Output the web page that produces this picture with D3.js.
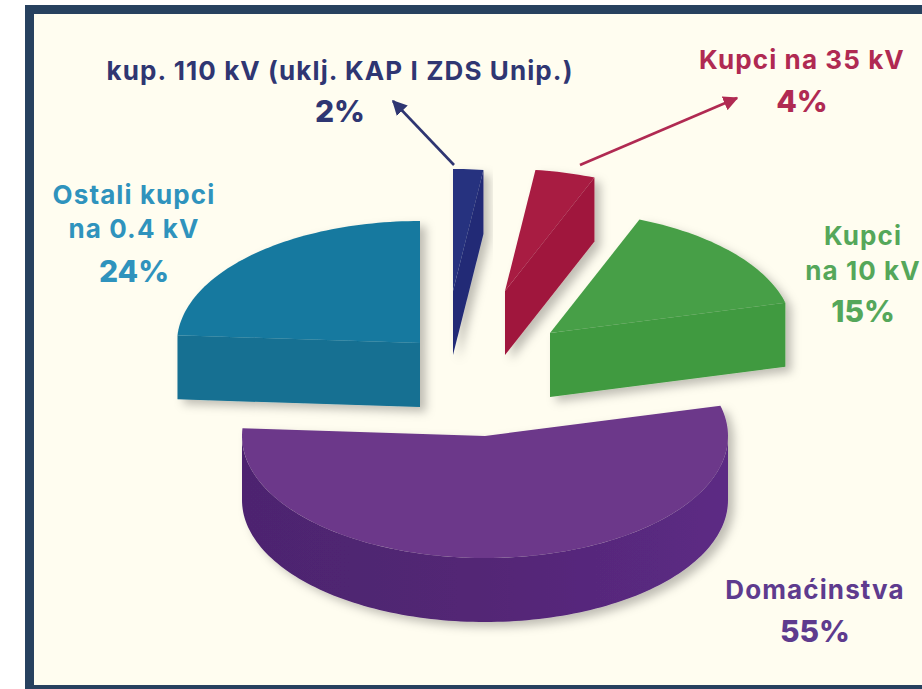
<!DOCTYPE html>
<html>
<head>
<meta charset="utf-8">
<script src="https://cdn.jsdelivr.net/npm/d3@7"></script>
<style>
  html, body { margin: 0; padding: 0; background: #fff; overflow: hidden; }
  svg { display: block; }
  text { font-family: Inter, "Open Sans", sans-serif; text-anchor: middle; }
  .name { font-size: 26px; font-weight: 700; letter-spacing: 1.1px; }
  .perc { font-size: 30px; font-weight: 800; }
</style>
</head>
<body>
<div id="chart"></div>
<script>
/* DATA */
const categories = ["kup. 110 kV", "Kupci na 35 kV", "Kupci na 10 kV", "Domaćinstva", "Ostali kupci"];
const shares = [2, 4, 15, 55, 24];
const labelLines = [
  ["kup. 110 kV (uklj. KAP I ZDS Unip.)"],
  ["Kupci na 35 kV"],
  ["Kupci", "na 10 kV"],
  ["Domaćinstva"],
  ["Ostali kupci", "na 0.4 kV"],
];

/* LAYOUT AND COLOURS */
const width = 922, height = 689;
const rx = 243, ry = 122, depth = 64;

// where the tip of each pulled out slice ends up
const sliceApex = [[453, 291], [505, 291], [550, 333], [485, 436], [420, 343]];
const topColors = ["#25317f", "#a81a42", "#479f47", "#6c398a", "#16799f"];
const wallColors = ["#212b76", "#a0153c", "#419a41", "#522674", "#136f92"];
const textColors = ["#2f3672", "#b02a52", "#55a75a", "#5e3b8e", "#2f93bd"];

// label anchor: centre x, first baseline, line gap, baseline of the percent
const labelPos = [
  { x: 340, y: 80, gap: 0, py: 122 },
  { x: 802, y: 69, gap: 0, py: 112 },
  { x: 863, y: 245, gap: 35, py: 322 },
  { x: 815, y: 599, gap: 0, py: 642 },
  { x: 134, y: 204, gap: 34, py: 282 },
];
const arrows = [
  { color: "#2f3672", from: [454, 165], to: [393, 101] },
  { color: "#b02a52", from: [580, 165], to: [737, 98] },
];

const svg = d3.select("#chart").append("svg")
  .attr("width", width)
  .attr("height", height);

const defs = svg.append("defs");

const shadow = defs.append("filter").attr("id", "shadow")
  .attr("x", "-20%").attr("y", "-20%").attr("width", "150%").attr("height", "150%");
shadow.append("feDropShadow")
  .attr("dx", 6).attr("dy", 5)
  .attr("stdDeviation", 5)
  .attr("flood-color", "#000")
  .attr("flood-opacity", 0.25);

// purple wall goes a bit lighter to the right
const wallGrad = defs.append("linearGradient").attr("id", "wall3");
wallGrad.append("stop").attr("offset", "0%").attr("stop-color", "#4d2470");
wallGrad.append("stop").attr("offset", "45%").attr("stop-color", "#522674");
wallGrad.append("stop").attr("offset", "100%").attr("stop-color", "#5c2a84");

defs.selectAll("marker")
  .data(arrows)
  .join("marker")
  .attr("id", (d, i) => "head" + i)
  .attr("viewBox", "0 0 10 10")
  .attr("refX", 9).attr("refY", 5)
  .attr("markerUnits", "userSpaceOnUse")
  .attr("markerWidth", 15).attr("markerHeight", 15)
  .attr("orient", "auto")
  .append("path")
  .attr("d", "M0,0 L10,5 L0,10 Z")
  .attr("fill", d => d.color);

/* FRAME */
svg.append("rect").attr("x", 25).attr("y", 5)
  .attr("width", width - 25).attr("height", height - 5)
  .attr("fill", "#27415f");
svg.append("rect").attr("x", 34).attr("y", 14)
  .attr("width", width - 34).attr("height", 671)
  .attr("fill", "#fffdf0");

/* PIE */
const pie = d3.pie().sort(null).value(d => d);
const arcs = pie(shares);

// angle 0 is 12 o'clock, going clockwise. Flat circle seen from above
const project = (a, apex) => [apex[0] + rx * Math.sin(a), apex[1] - ry * Math.cos(a)];
const line = d3.line();

function arcPoints(a0, a1, apex, dy) {
  const n = Math.max(2, Math.ceil((a1 - a0) * 40));
  return d3.range(n + 1).map(i => {
    const p = project(a0 + (a1 - a0) * i / n, apex);
    return [p[0], p[1] + dy];
  });
}

const slices = svg.selectAll("g.slice")
  .data(arcs)
  .join("g")
  .attr("class", "slice")
  .attr("filter", "url(#shadow)");

slices.each(function(d, i) {
  const apex = sliceApex[i];
  const g = d3.select(this);
  // cut face, only the ones turned to the viewer
  const cut = i === 4 ? d.startAngle : d.endAngle;
  if (i !== 3) {
    const p = project(cut, apex);
    g.append("path")
      .attr("d", line([apex, p, [p[0], p[1] + depth], [apex[0], apex[1] + depth]]) + "Z")
      .attr("fill", wallColors[i]);
  }
  // outer wall, front half of the ellipse
  const a0 = Math.max(d.startAngle, Math.PI / 2);
  const a1 = Math.min(d.endAngle, Math.PI * 1.5);
  if (a1 > a0) {
    const top = arcPoints(a0, a1, apex, 0);
    const bottom = arcPoints(a0, a1, apex, depth).reverse();
    g.append("path")
      .attr("d", line(top.concat(bottom)) + "Z")
      .attr("fill", i === 3 ? "url(#wall3)" : wallColors[i]);
  }
  g.append("path")
    .attr("d", line([apex].concat(arcPoints(d.startAngle, d.endAngle, apex, 0))) + "Z")
    .attr("fill", topColors[i]);
});

/* ARROWS */
svg.selectAll("line.arrow")
  .data(arrows)
  .join("line")
  .attr("class", "arrow")
  .attr("x1", d => d.from[0]).attr("y1", d => d.from[1])
  .attr("x2", d => d.to[0]).attr("y2", d => d.to[1])
  .attr("stroke", d => d.color)
  .attr("stroke-width", 2.6)
  .attr("marker-end", (d, i) => `url(#head${i})`);

/* LABELS */
const labels = svg.selectAll("g.label")
  .data(categories)
  .join("g")
  .attr("class", "label")
  .attr("fill", (d, i) => textColors[i]);

labels.each(function(d, i) {
  const g = d3.select(this);
  const pos = labelPos[i];
  labelLines[i].forEach((txt, k) => {
    g.append("text").attr("class", "name")
      .attr("x", pos.x).attr("y", pos.y + k * pos.gap)
      .text(txt);
  });
  g.append("text").attr("class", "perc")
    .attr("x", pos.x).attr("y", pos.py)
    .text(shares[i] + "%");
});
</script>
</body>
</html>
